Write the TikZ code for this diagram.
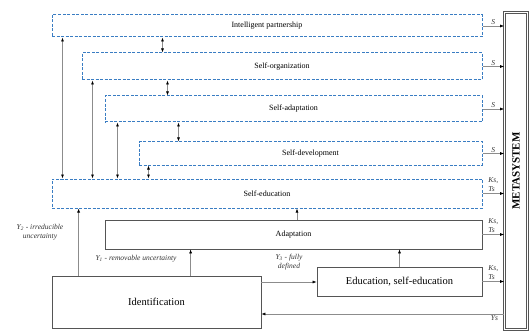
\documentclass[tikz,border=0pt]{standalone}
\usepackage{fontspec}
\setmainfont{Liberation Serif}
\usepackage{tikz}
\usetikzlibrary{arrows.meta}
\usepackage{color,xcolor}
\definecolor{dashblue}{RGB}{58,125,195}
\definecolor{linegray}{RGB}{140,140,140}
\definecolor{boxgray}{RGB}{85,85,85}

\begin{document}
\begin{tikzpicture}[x=1pt,y=-1pt,
  dbox/.style={draw=dashblue,dash pattern=on 3pt off 1.5pt,line width=1pt,inner sep=0pt,font=\fontsize{8}{9}\selectfont},
  sbox/.style={draw=boxgray,line width=0.8pt,inner sep=0pt},
  arr/.style={linegray,line width=0.6pt,-{Latex[length=4pt,width=3pt,black]}},
  biarr/.style={linegray,line width=0.6pt,{Latex[length=4pt,width=3pt,black]}-{Latex[length=4pt,width=3pt,black]}},
  lbl/.style={font=\fontsize{7.5}{8.5}\selectfont\itshape,inner sep=1pt,text=black!80}]
\useasboundingbox (0,0) rectangle (530,334);
% levels of self-organization
\node[dbox,minimum width=430pt,minimum height=22pt] (ip) at (267,26) {Intelligent partnership};
\node[dbox,minimum width=400pt,minimum height=27pt] (so) at (282,66.5) {Self-organization};
\node[dbox,minimum width=377pt,minimum height=26pt] (sa) at (293.5,109) {Self-adaptation};
\node[dbox,minimum width=343pt,minimum height=23pt] (sd) at (310.5,153.5) {Self-development};
\node[dbox,minimum width=430pt,minimum height=29pt] (se) at (267,193.5) {Self-education};
% lower blocks
\node[sbox,minimum width=377pt,minimum height=29pt,font=\fontsize{8}{9}\selectfont] (ad) at (293.5,234.5) {Adaptation};
\node[sbox,minimum width=209pt,minimum height=52pt,font=\fontsize{10.5}{12}\selectfont] (id) at (156.5,302) {Identification};
\node[sbox,minimum width=165pt,minimum height=29pt,font=\fontsize{10.5}{12}\selectfont] (ed) at (399.5,281.5) {Education, self-education};
% metasystem
\node[draw=boxgray,double=white,double distance=1.5pt,line width=0.7pt,minimum width=23pt,minimum height=317pt] (meta) at (516,171) {};
\node[rotate=90,font=\bfseries\fontsize{11}{12}\selectfont] (metalabel) at (meta.center) {METASYSTEM};

% outputs
\foreach \bx in {ip,so,sa,sd}
  \draw[arr] (\bx.east) -- (\bx.east -| meta.west) node[midway,above,lbl] {S};
\foreach \bx in {se,ad,ed}
  \draw[arr] (\bx.east) -- (\bx.east -| meta.west) node[midway,above,lbl,align=left,yshift=1pt] {Ks,\\Ts};
\draw[arr] ([yshift=-12pt]id.east -| meta.west) -- ([yshift=-12pt]id.east) node[pos=0.04,below,lbl] {Ys};

% links between levels
\draw[biarr] ([xshift=81pt]so.north west) -- ([xshift=81pt]so.north west |- ip.south);
\draw[biarr] ([xshift=63pt]sa.north west) -- ([xshift=63pt]sa.north west |- so.south);
\draw[biarr] ([xshift=40pt]sd.north west) -- ([xshift=40pt]sd.north west |- sa.south);
\draw[biarr] ([xshift=11pt]ip.south west) -- ([xshift=11pt]ip.south west |- se.north);
\draw[biarr] ([xshift=11pt]so.south west) -- ([xshift=11pt]so.south west |- se.north);
\draw[biarr] ([xshift=13pt]sa.south west) -- ([xshift=13pt]sa.south west |- se.north);
\draw[biarr] ([xshift=10pt]sd.south west) -- ([xshift=10pt]sd.south west |- se.north);

% from identification
\draw[arr] ([xshift=27pt]id.north west) -- ([xshift=27pt]id.north west |- se.south);
\draw[arr] ([xshift=139pt]id.north west) -- ([xshift=139pt]id.north west |- ad.south);
\draw[arr] ([yshift=20pt]id.east) -- ([yshift=20pt]id.east -| ed.west);
\draw[arr] (ed.north) -- (ed.north |- ad.south);
\draw[arr] ([xshift=3.5pt]ad.north) -- ([xshift=3.5pt]ad.north |- se.south);

% uncertainty labels
\node[lbl,align=center] (y2) at (40,232) {Y\textsubscript{2} - irreducible\\uncertainty};
\node[lbl] (y1) at (136,259) {Y\textsubscript{1} - removable uncertainty};
\node[lbl,align=center] (y3) at (289,262) {Y\textsubscript{3} - fully\\defined};
\end{tikzpicture}
\end{document}
